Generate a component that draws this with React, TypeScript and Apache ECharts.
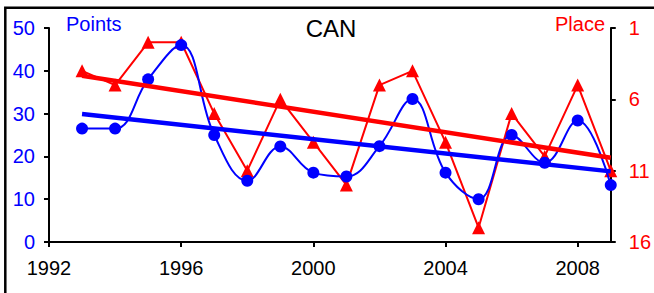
import React, { useEffect, useRef } from "react";
import * as echarts from "echarts";

const years = [1993, 1994, 1995, 1996, 1997, 1998, 1999, 2000, 2001, 2002, 2003, 2004, 2005, 2006, 2007, 2008, 2009];
const points = [26.5, 26.5, 38, 46, 25, 14.3, 22.3, 16.2, 15.3, 22.4, 33.4, 16.2, 10, 25, 18.5, 28.4, 13.3];
const places = [4, 5, 2, 2, 7, 11, 6, 9, 12, 5, 4, 9, 15, 7, 10, 5, 11];
const pointsTrend = [[1993, 29.9], [2009, 16.5]];
const placeTrend = [[1993, 4.35], [2009, 10.1]];
const xTicks = [1992, 1996, 2000, 2004, 2008];
const title = "CAN";

const BLUE = "#0000FF";
const RED = "#FF0000";
const FONT = "Liberation Sans, Arial, sans-serif";

export default function App() {
  const ref = useRef<HTMLDivElement>(null);
  useEffect(() => {
    document.body.style.margin = "0";
    const chart = echarts.init(ref.current!, null, { renderer: "svg" });
    chart.setOption({
      animation: false,
      backgroundColor: "#ffffff",
      textStyle: { fontFamily: FONT },
      grid: { left: 49, right: 40, top: 28, bottom: 51 },
      xAxis: {
        type: "value",
        min: 1992,
        max: 2009,
        interval: 4,
        splitLine: { show: false },
        axisLine: { lineStyle: { color: "#000", width: 2 } },
        axisTick: { show: true, length: 5, lineStyle: { color: "#000", width: 2 } },
        axisLabel: {
          color: "#000",
          fontSize: 20,
          fontFamily: FONT,
          margin: 16,
          showMaxLabel: false,
          formatter: (v: number) => (xTicks.includes(v) ? String(v) : ""),
        },
      },
      yAxis: [
        {
          type: "value",
          min: 0,
          max: 50,
          interval: 10,
          position: "left",
          splitLine: { show: false },
          axisLine: { show: true, lineStyle: { color: "#000", width: 2 } },
          axisTick: { show: true, length: 5, lineStyle: { color: "#000", width: 2 } },
          axisLabel: { color: BLUE, fontSize: 20, fontFamily: FONT, margin: 14 },
        },
        {
          type: "value",
          min: 1,
          max: 16,
          interval: 5,
          inverse: true,
          position: "right",
          splitLine: { show: false },
          axisLine: { show: true, lineStyle: { color: "#000", width: 2 } },
          axisTick: { show: true, length: 5, lineStyle: { color: "#000", width: 2 } },
          axisLabel: { color: RED, fontSize: 20, fontFamily: FONT, margin: 18 },
        },
      ],
      series: [
        {
          type: "line",
          yAxisIndex: 0,
          data: years.map((y, i) => [y, points[i]]),
          smooth: 0.4,
          symbol: "circle",
          symbolSize: 12,
          itemStyle: { color: BLUE },
          lineStyle: { color: BLUE, width: 2 },
          z: 3,
        },
        {
          type: "line",
          yAxisIndex: 1,
          data: years.map((y, i) => [y, places[i]]),
          symbol: "triangle",
          symbolSize: 13,
          itemStyle: { color: RED },
          lineStyle: { color: RED, width: 2 },
          z: 2,
        },
        {
          type: "line",
          yAxisIndex: 0,
          data: pointsTrend,
          symbol: "none",
          lineStyle: { color: BLUE, width: 4.5 },
          z: 4,
        },
        {
          type: "line",
          yAxisIndex: 1,
          data: placeTrend,
          symbol: "none",
          lineStyle: { color: RED, width: 4.5 },
          z: 4,
        },
      ],
      graphic: [
        {
          type: "rect",
          shape: { x: 5.3, y: 7.8, width: 720, height: 400 },
          style: { fill: "none", stroke: "#000", lineWidth: 2.5 },
          silent: true,
        },
        {
          type: "text",
          x: 331,
          y: 28,
          style: { text: title, fill: "#000", font: `24px ${FONT}`, textAlign: "center", textVerticalAlign: "middle" },
        },
        {
          type: "text",
          x: 66,
          y: 24,
          style: { text: "Points", fill: BLUE, font: `20px ${FONT}`, textAlign: "left", textVerticalAlign: "middle" },
        },
        {
          type: "text",
          x: 605,
          y: 24,
          style: { text: "Place", fill: RED, font: `20px ${FONT}`, textAlign: "right", textVerticalAlign: "middle" },
        },
      ],
    });
    return () => chart.dispose();
  }, []);
  return <div ref={ref} style={{ position: "absolute", left: 0, top: 0, width: 654, height: 293 }} />;
}
